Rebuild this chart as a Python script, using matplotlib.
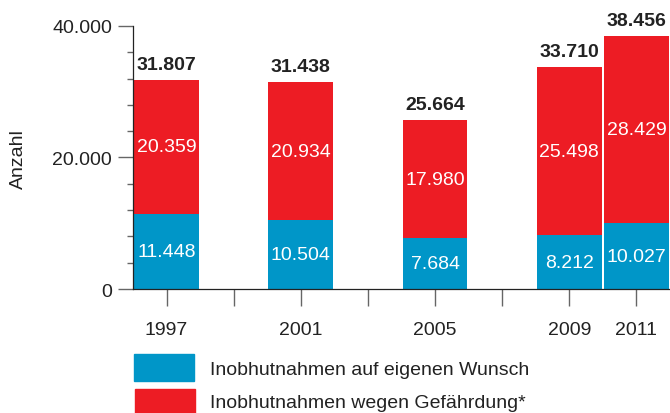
import matplotlib
matplotlib.use("Agg")
import matplotlib.pyplot as plt
from matplotlib.patches import Rectangle

plt.rcParams['font.family'] = ['Liberation Sans', 'DejaVu Sans']

# data
years = [1997, 2001, 2005, 2009, 2011]
own_wish = [11448, 10504, 7684, 8212, 10027]
danger = [20359, 20934, 17980, 25498, 28429]
totals = [31807, 31438, 25664, 33710, 38456]
legend_labels = ['Inobhutnahmen auf eigenen Wunsch', 'Inobhutnahmen wegen Gefährdung*']

blue = '#0096c8'
red = '#ed1c24'
grey = '#666666'
text_col = '#222222'
fs = 14


def de(v):
    return f"{v:,}".replace(",", ".")


fig = plt.figure(figsize=(6.7, 4.14), dpi=100)
ax = fig.add_axes([0.1985, 0.2995, 0.8015, 0.6353])

w = 1.93
ax.bar(years, own_wish, width=w, color=blue, linewidth=0)
ax.bar(years, danger, width=w, bottom=own_wish, color=red, linewidth=0)

for x, a, b, t in zip(years, own_wish, danger, totals):
    ax.text(x, a / 2, de(a), ha='center', va='center', color='white', fontsize=fs)
    ax.text(x, a + b / 2, de(b), ha='center', va='center', color='white', fontsize=fs)
    ax.annotate(de(t), (x, t), xytext=(0, 5), textcoords='offset points',
                ha='center', va='bottom', fontsize=fs, fontweight='bold',
                color=text_col, annotation_clip=False)

ax.set_xlim(1996, 2012)
ax.set_ylim(0, 40000)
ax.set_xticks(range(1997, 2012, 2))
ax.set_xticklabels([str(y) if y in years else '' for y in range(1997, 2012, 2)])
ax.set_yticks([0, 20000, 40000])
ax.set_yticklabels(['0', '20.000', '40.000'])
ax.set_yticks(range(0, 40001, 4000), minor=True)

for s in ['top', 'right']:
    ax.spines[s].set_visible(False)
ax.spines['left'].set_color(text_col)
ax.spines['bottom'].set_color(text_col)
ax.spines['left'].set_linewidth(0.9)
ax.spines['bottom'].set_linewidth(0.9)

ax.tick_params(axis='y', which='major', length=11, width=1, color=grey,
               labelsize=fs, labelcolor=text_col, pad=4)
ax.tick_params(axis='y', which='minor', length=4.5, width=1, color=grey)
ax.tick_params(axis='x', which='major', length=12, width=1, color=grey,
               labelsize=fs, labelcolor=text_col, pad=11)

fig.text(0.027, 0.615, 'Anzahl', rotation=90, ha='center', va='center',
         fontsize=fs, color=text_col)

# legend
fig.add_artist(Rectangle((134 / 670, 1 - 382 / 414), 60 / 670, 27 / 414,
                         transform=fig.transFigure, color=blue))
fig.add_artist(Rectangle((135 / 670, 1 - 420 / 414), 60 / 670, 30 / 414,
                         transform=fig.transFigure, color=red))
fig.text(210 / 670, 1 - 371 / 414, legend_labels[0], ha='left', va='center',
         fontsize=fs, color=text_col)
fig.text(210 / 670, 1 - 404 / 414, legend_labels[1], ha='left', va='center',
         fontsize=fs, color=text_col)

fig.savefig('out.png', dpi=100)
